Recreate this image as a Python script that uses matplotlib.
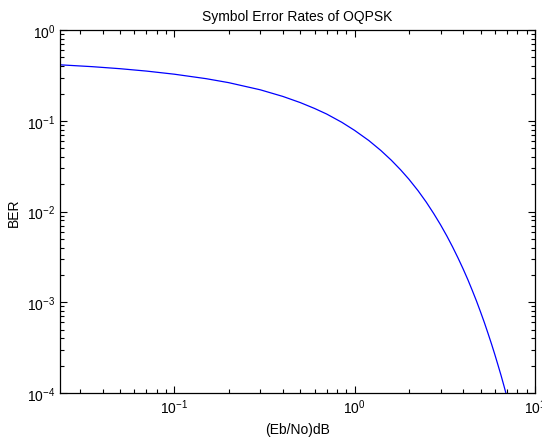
import matplotlib
matplotlib.use("Agg")
import matplotlib.pyplot as plt

# Eb/No (linear) and bit error rate
ebno = [0.0232, 0.035, 0.05, 0.07, 0.1, 0.15, 0.2, 0.3, 0.4, 0.5, 0.6, 0.7,
        0.85, 1.0, 1.2, 1.4, 1.6, 1.8, 2.0, 2.25, 2.5, 2.75, 3.0, 3.25, 3.5,
        3.75, 4.0, 4.25, 4.5, 4.75, 5.0, 5.25, 5.5, 5.75, 6.0, 6.25, 6.5,
        6.75, 7.0]
ber = [0.415, 0.396, 0.376, 0.354, 0.327, 0.292, 0.264, 0.220, 0.186, 0.159,
       0.137, 0.119, 0.0964, 0.0786, 0.0607, 0.0471, 0.0368, 0.0289, 0.0228,
       0.0170, 0.0127, 0.0095, 0.00715, 0.00539, 0.00407, 0.00308, 0.00234,
       0.00178, 0.00135, 0.00103, 7.83e-4, 5.98e-4, 4.55e-4, 3.48e-4,
       2.66e-4, 2.03e-4, 1.56e-4, 1.19e-4, 9.1e-5]

plt.rcParams["font.family"] = ["Liberation Sans", "DejaVu Sans"]
plt.rcParams["mathtext.fontset"] = "custom"
plt.rcParams["mathtext.rm"] = "Liberation Sans"
plt.rcParams["mathtext.it"] = "Liberation Sans"

fig = plt.figure(figsize=(5.42, 4.39), dpi=100)
ax = fig.add_axes([0.1107, 0.1025, 0.876, 0.8265])

ax.loglog(ebno, ber, color="#0000ff", linewidth=0.9)

ax.set_xlim(0.0232, 10)
ax.set_ylim(1e-4, 1)
ax.set_title("Symbol Error Rates of OQPSK", fontsize=10, pad=7)
ax.set_xlabel("(Eb/No)dB", fontsize=10)
ax.set_ylabel("BER", fontsize=10)

ax.tick_params(which="both", direction="in", top=True, right=True,
               labelsize=10, width=0.8)
ax.tick_params(which="major", length=5)
ax.tick_params(which="minor", length=3)
for spine in ax.spines.values():
    spine.set_linewidth(0.9)

fig.savefig("out.png", dpi=100)
